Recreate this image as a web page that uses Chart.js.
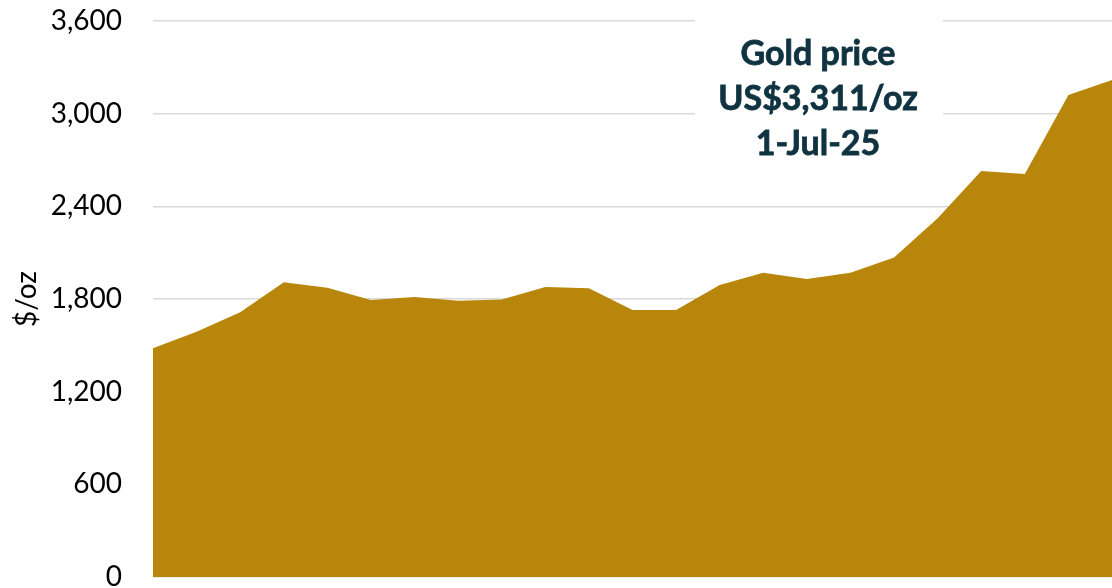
<!DOCTYPE html>
<html lang="en">
<head>
    <meta charset="UTF-8">
    <title>Gold price</title>
    <style>
        html, body {
            margin: 0;
            padding: 0;
            background: #ffffff;
        }
        #wrap {
            width: 1112px;
            height: 588px;
        }
    </style>
    <script src="https://cdn.jsdelivr.net/npm/chart.js"></script>
</head>
<body>
    <div id="wrap"><canvas id="goldChart" width="1112" height="588"></canvas></div>

    <script>
        // quarterly gold price, US$/oz
        const quarters = ['Q4 19', 'Q1 20', 'Q2 20', 'Q3 20', 'Q4 20', 'Q1 21', 'Q2 21', 'Q3 21', 'Q4 21',
                          'Q1 22', 'Q2 22', 'Q3 22', 'Q4 22', 'Q1 23', 'Q2 23', 'Q3 23', 'Q4 23',
                          'Q1 24', 'Q2 24', 'Q3 24', 'Q4 24', 'Q1 25', 'Q2 25'];
        const goldPrice = [1481, 1588, 1714, 1908, 1873, 1794, 1813, 1789, 1796,
                           1878, 1869, 1729, 1729, 1891, 1970, 1930, 1970,
                           2068, 2323, 2629, 2609, 3121, 3218];
        const yTicks = [0, 600, 1200, 1800, 2400, 3000, 3600];
        const noteLines = ['Gold price', 'US$3,311/oz', '1-Jul-25'];

        const fontFamily = 'Lato, "Open Sans", sans-serif';

        // white text box with the price note
        const notePlugin = {
            id: 'note',
            beforeDatasetsDraw(chart) {
                const ctx = chart.ctx;
                ctx.save();
                ctx.fillStyle = '#ffffff';
                ctx.fillRect(695, 0, 248, 175);
                ctx.fillStyle = '#0f3340';
                ctx.font = 'bold 34px ' + fontFamily;
                ctx.textAlign = 'center';
                ctx.textBaseline = 'alphabetic';
                ctx.strokeStyle = '#0f3340';
                ctx.lineWidth = 0.8;
                noteLines.forEach((line, i) => {
                    ctx.fillText(line, 818, 65 + i * 45);
                    ctx.strokeText(line, 818, 65 + i * 45);
                });
                ctx.restore();
            }
        };

        const ctx = document.getElementById('goldChart').getContext('2d');
        new Chart(ctx, {
            type: 'line',
            data: {
                labels: quarters,
                datasets: [{
                    label: 'Gold price (US$/oz)',
                    data: goldPrice,
                    borderWidth: 0,
                    borderColor: '#b8860b',
                    backgroundColor: '#b8860b',
                    pointRadius: 0,
                    tension: 0,
                    fill: 'origin'
                }]
            },
            options: {
                responsive: false,
                animation: false,
                layout: {
                    padding: { top: 21, bottom: 11, left: 0, right: 0 }
                },
                plugins: {
                    legend: { display: false },
                    tooltip: { enabled: false }
                },
                scales: {
                    x: {
                        display: false,
                        offset: false
                    },
                    y: {
                        min: 0,
                        max: 3600,
                        afterBuildTicks(scale) {
                            scale.ticks = yTicks.map(v => ({ value: v }));
                        },
                        afterFit(scale) {
                            scale.width = 153;
                            scale.paddingTop = 0;
                            scale.paddingBottom = 0;
                        },
                        border: { display: false },
                        grid: {
                            color: '#d9d9d9',
                            lineWidth: 1.5,
                            drawTicks: false
                        },
                        ticks: {
                            padding: 31,
                            color: '#000000',
                            font: { family: fontFamily, size: 28 },
                            callback: v => v.toLocaleString('en-US')
                        },
                        title: {
                            display: true,
                            text: '$/oz',
                            color: '#000000',
                            font: { family: fontFamily, size: 28 },
                            padding: { top: 10, bottom: 0 }
                        }
                    }
                }
            },
            plugins: [notePlugin]
        });
    </script>
</body>
</html>
